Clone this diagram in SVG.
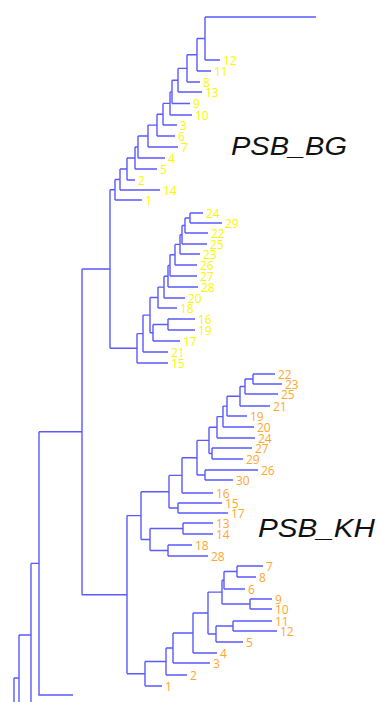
<svg xmlns="http://www.w3.org/2000/svg" width="379" height="702" viewBox="0 0 379 702">
<style>
.c{fill:none;stroke:#5a5aff;stroke-width:1.4}
.y{fill:#f7f700;font-family:"Open Sans","Liberation Sans",sans-serif;font-size:12px}
.o{fill:#ffa530;font-family:"Open Sans","Liberation Sans",sans-serif;font-size:12px}
.t{fill:#111;font-family:"Liberation Sans",Arial,sans-serif;font-style:italic;font-size:26px}
</style>
<rect width="379" height="702" fill="#fff"/>
<g id="connectors">
<path class="c" d="M205 17H316 M205 60H220 M197 71H211 M187 82H200 M178 92H202 M172 103.5H190 M170 115H192 M163 125H177 M157 136H175 M148 147H178 M138 158H165 M135 169H157 M127 180H135 M120 190H160 M115 200H142
M205 17V60 M197 38.5H205 M197 38.5V71 M187 54.8H197 M187 54.8V82 M178 68.4H187 M178 68.4V92 M172 80.2H178 M172 80.2V103.5 M170 91.9H172 M170 91.9V115 M163 103.4H170 M163 103.4V125 M157 114.2H163 M157 114.2V136 M148 125.1H157 M148 125.1V147 M138 136H148 M138 136V158 M135 147H138 M135 147V169 M127 158H135 M127 158V180 M120 169H127 M120 169V190 M115 179.5H120 M115 179.5V200 M110 189.8H115 M110 189.8V348.3 M82 269H110"/>
<path class="c" d="M190 213H203 M190 223H222 M185 233H208 M182 244H207 M180 254H200 M175 265H197 M170 276H197 M168 287H198 M164 298H185 M158 308H177 M168 319H195 M168 330H195 M153 341H180 M143 352H168 M137 363H168
M190 213V223 M185 218H190 M185 218V233 M182 225.5H185 M182 225.5V244 M180 234.8H182 M180 234.8V254 M175 244.4H180 M175 244.4V265 M170 254.7H175 M170 254.7V276 M168 265.4H170 M168 265.4V287 M164 276.2H168 M164 276.2V298 M158 287.1H164 M158 287.1V308 M150 297.5H158 M168 319V330 M153 324.5H168 M153 324.5V341 M150 332.8H153 M150 297.5V332.8 M143 315.1H150 M143 315.1V352 M137 333.6H143 M137 333.6V363 M110 348.3H137"/>
<path class="c" d="M253 374H275 M253 384H282 M245 394H278 M240 406H270 M227 416H247 M223 427H254 M217 438H255 M212 448H252 M212 459H243 M205 470H258 M205 480H233 M182 493H213 M178 503H222 M178 513H228 M183 523H213 M183 534H213 M168 545H192 M168 556H208
M253 374V384 M245 379H253 M245 379V394 M240 386.5H245 M240 386.5V406 M227 396.3H240 M227 396.3V416 M223 406.1H227 M223 406.1V427 M217 416.6H223 M217 416.6V438 M209 427.3H217 M212 448V459 M209 453.5H212 M209 427.3V453.5 M197 440.4H209 M205 470V480 M197 475H205 M197 440.4V475 M182 457.7H197 M182 457.7V493 M169 475.4H182 M178 503V513 M169 508H178 M169 475.4V508 M141 491.7H169 M183 523V534 M150 528.5H183 M168 545V556 M150 550.5H168 M150 528.5V550.5 M141 539.5H150 M141 491.7V539.5 M127 515.6H141"/>
<path class="c" d="M237 566H263 M237 577H256 M224 589H245 M250 599H272 M250 609H272 M233 621H272 M233 631H277 M216 642H243 M193 653H217 M173 663H210 M166 675H187 M145 686H162
M237 566V577 M224 571.5H237 M224 571.5V589 M222 580.3H224 M250 599V609 M222 604H250 M222 580.3V604 M208 592.1H222 M233 621V631 M216 626H233 M216 626V642 M208 634H216 M208 592.1V634 M193 613H208 M193 613V653 M173 633H193 M173 633V663 M166 648H173 M166 648V675 M145 661.5H166 M145 661.5V686 M127 673.8H145 M127 515.6V673.8 M82 594.7H127"/>
<path class="c" d="M82 269V594.7 M39 431.8H82 M39 431.8V695H73 M31 563.4H39 M31 563.4V710 M19 635H31 M19 635V710 M14 678H19 M14 678V710"/>
</g>
<g id="bg-leaves">
<g id="bg12"><text class="y" x="223" y="64.5">12</text></g>
<g id="bg11"><text class="y" x="214" y="75.5">11</text></g>
<g id="bg8"><text class="y" x="203" y="86.5">8</text></g>
<g id="bg13"><text class="y" x="205" y="96.5">13</text></g>
<g id="bg9"><text class="y" x="193" y="108">9</text></g>
<g id="bg10"><text class="y" x="195" y="119.5">10</text></g>
<g id="bg3"><text class="y" x="180" y="129.5">3</text></g>
<g id="bg6"><text class="y" x="178" y="140.5">6</text></g>
<g id="bg7"><text class="y" x="181" y="151.5">7</text></g>
<g id="bg4"><text class="y" x="168" y="162.5">4</text></g>
<g id="bg5"><text class="y" x="160" y="173.5">5</text></g>
<g id="bg2"><text class="y" x="138" y="184.5">2</text></g>
<g id="bg14"><text class="y" x="163" y="194.5">14</text></g>
<g id="bg1"><text class="y" x="145" y="204.5">1</text></g>
<g id="bg24"><text class="y" x="206" y="217.5">24</text></g>
<g id="bg29"><text class="y" x="225" y="227.5">29</text></g>
<g id="bg22"><text class="y" x="211" y="237.5">22</text></g>
<g id="bg25"><text class="y" x="210" y="248.5">25</text></g>
<g id="bg23"><text class="y" x="203" y="258.5">23</text></g>
<g id="bg26"><text class="y" x="200" y="269.5">26</text></g>
<g id="bg27"><text class="y" x="200" y="280.5">27</text></g>
<g id="bg28"><text class="y" x="201" y="291.5">28</text></g>
<g id="bg20"><text class="y" x="188" y="302.5">20</text></g>
<g id="bg18"><text class="y" x="180" y="312.5">18</text></g>
<g id="bg16"><text class="y" x="198" y="323.5">16</text></g>
<g id="bg19"><text class="y" x="198" y="334.5">19</text></g>
<g id="bg17"><text class="y" x="183" y="345.5">17</text></g>
<g id="bg21"><text class="y" x="171" y="356.5">21</text></g>
<g id="bg15"><text class="y" x="171" y="367.5">15</text></g>
</g>
<g id="kh-leaves">
<g id="kh22"><text class="o" x="278" y="378.5">22</text></g>
<g id="kh23"><text class="o" x="285" y="388.5">23</text></g>
<g id="kh25"><text class="o" x="281" y="398.5">25</text></g>
<g id="kh21"><text class="o" x="273" y="410.5">21</text></g>
<g id="kh19"><text class="o" x="250" y="420.5">19</text></g>
<g id="kh20"><text class="o" x="257" y="431.5">20</text></g>
<g id="kh24"><text class="o" x="258" y="442.5">24</text></g>
<g id="kh27"><text class="o" x="255" y="452.5">27</text></g>
<g id="kh29"><text class="o" x="246" y="463.5">29</text></g>
<g id="kh26"><text class="o" x="261" y="474.5">26</text></g>
<g id="kh30"><text class="o" x="236" y="484.5">30</text></g>
<g id="kh16"><text class="o" x="216" y="497.5">16</text></g>
<g id="kh15"><text class="o" x="225" y="507.5">15</text></g>
<g id="kh17"><text class="o" x="231" y="517.5">17</text></g>
<g id="kh13"><text class="o" x="216" y="527.5">13</text></g>
<g id="kh14"><text class="o" x="216" y="538.5">14</text></g>
<g id="kh18"><text class="o" x="195" y="549.5">18</text></g>
<g id="kh28"><text class="o" x="211" y="560.5">28</text></g>
<g id="kh7"><text class="o" x="266" y="570.5">7</text></g>
<g id="kh8"><text class="o" x="259" y="581.5">8</text></g>
<g id="kh6"><text class="o" x="248" y="593.5">6</text></g>
<g id="kh9"><text class="o" x="275" y="603.5">9</text></g>
<g id="kh10"><text class="o" x="275" y="613.5">10</text></g>
<g id="kh11"><text class="o" x="275" y="625.5">11</text></g>
<g id="kh12"><text class="o" x="280" y="635.5">12</text></g>
<g id="kh5"><text class="o" x="246" y="646.5">5</text></g>
<g id="kh4"><text class="o" x="220" y="657.5">4</text></g>
<g id="kh3"><text class="o" x="213" y="667.5">3</text></g>
<g id="kh2"><text class="o" x="190" y="679.5">2</text></g>
<g id="kh1"><text class="o" x="165" y="690.5">1</text></g>
</g>
<g id="title-bg"><text class="t" x="231" y="155" textLength="116" lengthAdjust="spacingAndGlyphs">PSB_BG</text></g>
<g id="title-kh"><text class="t" x="258" y="537" textLength="117" lengthAdjust="spacingAndGlyphs">PSB_KH</text></g>
</svg>
